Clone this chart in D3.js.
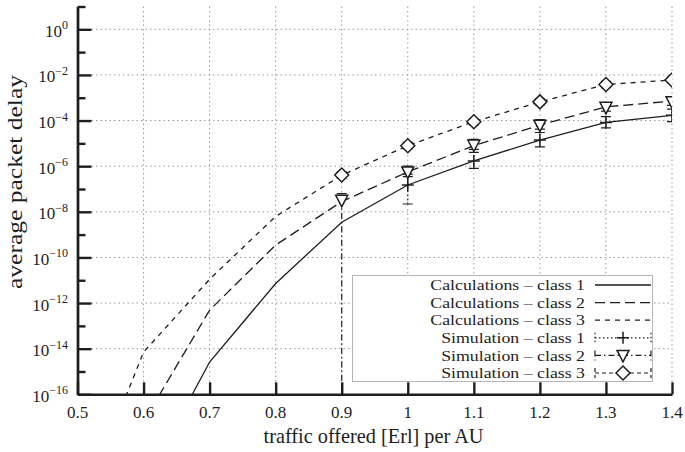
<!DOCTYPE html>
<html>
<head>
<meta charset="utf-8">
<script src="https://cdn.jsdelivr.net/npm/d3@7"></script>
<style>
  html, body { margin: 0; padding: 0; background: #fff; }
  svg { display: block; font-family: "Liberation Serif", "Times New Roman", serif; }
</style>
</head>
<body>
<svg id="chart" width="685" height="452"></svg>
<script>
// Offered traffic per AU [Erl]
const loads = [0.5, 0.6, 0.7, 0.8, 0.9, 1.0, 1.1, 1.2, 1.3, 1.4];

// Analytical average packet delay per priority class
const calcX1 = [0.6, 0.7, 0.8, 0.9, 1.0, 1.1, 1.2, 1.3, 1.4];
const calc1  = [1e-20, 2.6e-15, 7.2e-12, 3.5e-9, 1.5e-7, 1.7e-6, 1.4e-5, 8.3e-5, 1.7e-4];
const calcX2 = [0.6, 0.7, 0.8, 0.9, 1.0, 1.1, 1.2, 1.3, 1.4];
const calc2  = [6.3e-18, 4.9e-13, 3.5e-10, 2.8e-8, 5.6e-7, 7.9e-6, 6.3e-5, 4.0e-4, 7.1e-4];
const calcX3 = [0.5, 0.6, 0.7, 0.8, 0.9, 1.0, 1.1, 1.2, 1.3, 1.4];
const calc3  = [4e-22, 7.1e-15, 1.1e-11, 6.3e-9, 4.0e-7, 7.9e-6, 8.9e-5, 6.6e-4, 3.8e-3, 6.0e-3];

// Simulation results with confidence bounds (0 = lower bound at zero)
const simX1   = [1.0, 1.1, 1.2, 1.3, 1.4];
const sim1    = [1.5e-7, 1.7e-6, 1.4e-5, 8.3e-5, 1.7e-4];
const sim1Lo  = [2.2e-8, 8e-7, 7e-6, 4.8e-5, 9e-5];
const sim1Hi  = [4.5e-7, 4e-6, 3e-5, 1.5e-4, 3.2e-4];
const simX2   = [0.9, 1.0, 1.1, 1.2, 1.3, 1.4];
const sim2    = [3.2e-8, 5.6e-7, 8.5e-6, 6.3e-5, 3.8e-4, 6.6e-4];
const sim2Lo  = [0, 3.5e-7, 5.5e-6, 4.2e-5, 2.6e-4, 4.6e-4];
const sim2Hi  = [6.3e-8, 1.0e-6, 1.5e-5, 1.1e-4, 6.0e-4, 1.0e-3];
const simX3   = [0.9, 1.0, 1.1, 1.2, 1.3, 1.4];
const sim3    = [4.1e-7, 7.9e-6, 8.9e-5, 6.6e-4, 3.8e-3, 6.0e-3];
const sim3Lo  = [3.0e-7, 5.8e-6, 6.5e-5, 4.9e-4, 2.8e-3, 4.5e-3];
const sim3Hi  = [5.6e-7, 1.1e-5, 1.2e-4, 9.0e-4, 5.2e-3, 8.0e-3];

// Axis ticks
const yMajorExp = [0, -2, -4, -6, -8, -10, -12, -14, -16];
const yMinorExp = [1, -1, -3, -5, -7, -9, -11, -13, -15];
const xTickLabels = ["0.5", "0.6", "0.7", "0.8", "0.9", "1", "1.1", "1.2", "1.3", "1.4"];

const legendLabels = [
  "Calculations \u2013 class 1",
  "Calculations \u2013 class 2",
  "Calculations \u2013 class 3",
  "Simulation \u2013 class 1",
  "Simulation \u2013 class 2",
  "Simulation \u2013 class 3"
];

const svg = d3.select("#chart");
const pLeft = 77.5, pRight = 672, pTop = 6.5, pBottom = 394.3;
const x = d3.scaleLinear().domain([0.5, 1.4]).range([pLeft, pRight]);
const y = d3.scaleLog().domain([1e-16, 10]).range([pBottom, pTop]);

const ink = "#1e1e1e";
const dashCalc = [null, "10,5", "5,5"];
const dashSim = ["1.5,2.5", "6,3,1.5,3", "4,3"];

svg.append("defs").append("clipPath").attr("id", "plot")
  .append("rect").attr("x", pLeft).attr("y", pTop)
  .attr("width", pRight - pLeft).attr("height", pBottom - pTop);

// grid
const grid = svg.append("g").attr("stroke", "#9a9a9a").attr("stroke-width", 1)
  .attr("stroke-dasharray", "1.5,3");
grid.selectAll("line.h").data(yMajorExp.filter(e => e > -16)).join("line")
  .attr("x1", pLeft + 14).attr("x2", pRight)
  .attr("y1", e => y(Math.pow(10, e))).attr("y2", e => y(Math.pow(10, e)));
grid.selectAll("line.v").data(loads.slice(1)).join("line")
  .attr("y1", pTop).attr("y2", pBottom - 12)
  .attr("x1", d => x(d)).attr("x2", d => x(d));

// axes
const yAxisMajor = d3.axisLeft(y)
  .tickValues(yMajorExp.map(e => Math.pow(10, e)))
  .tickSize(-14).tickSizeOuter(0).tickFormat("");
const yAxisMinor = d3.axisLeft(y)
  .tickValues(yMinorExp.map(e => Math.pow(10, e)))
  .tickSize(-8).tickSizeOuter(0).tickFormat("");
const xAxis = d3.axisBottom(x).tickValues(loads)
  .tickSize(-12).tickSizeOuter(0).tickFormat("");

function styleAxis(g) {
  g.selectAll("path, line").attr("stroke", ink).attr("stroke-width", 2.4);
}
svg.append("g").attr("transform", `translate(${pLeft},0)`).call(yAxisMajor).call(styleAxis);
svg.append("g").attr("transform", `translate(${pLeft},0)`).call(yAxisMinor).call(styleAxis);
svg.append("g").attr("transform", `translate(0,${pBottom})`).call(xAxis).call(styleAxis);

// y tick labels with exponents
yMajorExp.forEach(e => {
  const t = svg.append("text")
    .attr("x", 68).attr("y", y(Math.pow(10, e)) + 7.5)
    .attr("text-anchor", "end").attr("fill", ink).attr("font-size", 17);
  t.append("tspan").text("10");
  t.append("tspan").attr("dy", -7.5).attr("font-size", 12)
    .text(e === 0 ? "0" : "\u2212" + Math.abs(e));
});

// x tick labels
svg.selectAll("text.xl").data(loads).join("text")
  .attr("x", d => x(d)).attr("y", 418)
  .attr("text-anchor", "middle").attr("fill", ink).attr("font-size", 17)
  .text((d, i) => xTickLabels[i]);

// axis titles
svg.append("text").attr("x", 373.5).attr("y", 443)
  .attr("text-anchor", "middle").attr("fill", ink).attr("font-size", 20.3)
  .text("traffic offered [Erl] per AU");
svg.append("text").attr("transform", "translate(22,182) rotate(-90)")
  .attr("text-anchor", "middle").attr("fill", ink).attr("font-size", 20.5)
  .attr("textLength", 214).attr("lengthAdjust", "spacingAndGlyphs")
  .text("average packet delay");

// analytical curves
const plot = svg.append("g").attr("clip-path", "url(#plot)");
const line = d3.line().x(d => x(d[0])).y(d => y(d[1]));
[[calcX1, calc1], [calcX2, calc2], [calcX3, calc3]].forEach(([xs, ys], i) => {
  plot.append("path")
    .datum(xs.map((v, k) => [v, ys[k]]))
    .attr("d", line).attr("fill", "none").attr("stroke", ink)
    .attr("stroke-width", 1.3).attr("stroke-dasharray", dashCalc[i]);
});

// markers
function marker(g, kind, cx, cy) {
  if (kind === 0) {
    g.append("path").attr("d", `M${cx - 6},${cy}H${cx + 6}M${cx},${cy - 6}V${cy + 6}`)
      .attr("stroke", ink).attr("stroke-width", 1.5).attr("fill", "none");
  } else if (kind === 1) {
    g.append("path").attr("d", `M${cx - 6},${cy - 5}L${cx + 6},${cy - 5}L${cx},${cy + 6.5}Z`)
      .attr("stroke", ink).attr("stroke-width", 1.5).attr("fill", "#fff");
  } else {
    g.append("path").attr("d", `M${cx},${cy - 7}L${cx + 7},${cy}L${cx},${cy + 7}L${cx - 7},${cy}Z`)
      .attr("stroke", ink).attr("stroke-width", 1.5).attr("fill", "#fff");
  }
}

const sims = [
  [simX1, sim1, sim1Lo, sim1Hi],
  [simX2, sim2, sim2Lo, sim2Hi],
  [simX3, sim3, sim3Lo, sim3Hi]
];
sims.forEach(([xs, vs, lo, hi], i) => {
  const g = plot.append("g");
  xs.forEach((xv, k) => {
    const cx = x(xv);
    const yLo = lo[k] > 0 ? y(lo[k]) : pBottom;
    const yHi = y(hi[k]);
    g.append("line").attr("x1", cx).attr("x2", cx).attr("y1", yLo).attr("y2", yHi)
      .attr("stroke", ink).attr("stroke-width", 1.2).attr("stroke-dasharray", dashSim[i]);
    g.append("line").attr("x1", cx - 5).attr("x2", cx + 5).attr("y1", yHi).attr("y2", yHi)
      .attr("stroke", ink).attr("stroke-width", 1.2);
    if (lo[k] > 0) {
      g.append("line").attr("x1", cx - 5).attr("x2", cx + 5).attr("y1", yLo).attr("y2", yLo)
        .attr("stroke", ink).attr("stroke-width", 1.2);
    }
  });
  xs.forEach((xv, k) => marker(g, i, x(xv), y(vs[k])));
});

// legend: compact line height, glyphs widened to the key's text width
const lg = svg.append("g");
lg.append("rect").attr("x", 352.5).attr("y", 275.5).attr("width", 300).attr("height", 106)
  .attr("fill", "#fff").attr("stroke", "#b5b5b5").attr("stroke-width", 1);
const keyFont = 15.6, keyStretch = 17.8 / 15.6;
legendLabels.forEach((lab, i) => {
  const cy = 285 + i * 17.6;
  const t = lg.append("text").attr("x", 585).attr("y", cy + 5.2).attr("text-anchor", "end")
    .attr("fill", ink).attr("font-size", keyFont).text(lab);
  const w = t.node().getComputedTextLength();
  t.attr("textLength", w * keyStretch).attr("lengthAdjust", "spacingAndGlyphs");
  if (i < 3) {
    lg.append("line").attr("x1", 595).attr("x2", 651).attr("y1", cy).attr("y2", cy)
      .attr("stroke", ink).attr("stroke-width", 1.3).attr("stroke-dasharray", dashCalc[i]);
  } else {
    const j = i - 3;
    lg.append("path").attr("d", `M595,${cy - 5}V${cy + 5}M595,${cy}H651M651,${cy - 5}V${cy + 5}`)
      .attr("fill", "none").attr("stroke", ink).attr("stroke-width", 1.2)
      .attr("stroke-dasharray", dashSim[j]);
    marker(lg, j, 623, cy);
  }
});
</script>
</body>
</html>
